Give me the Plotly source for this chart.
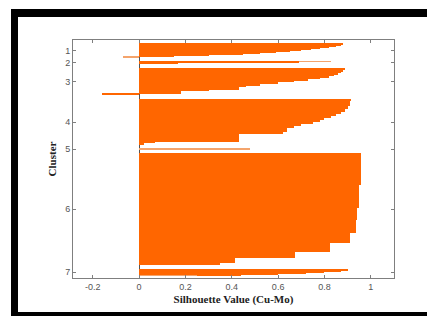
import plotly.graph_objects as go

# ---- data (silhouette values, sorted within each cluster, with run lengths) ----
cluster_labels = ["1", "2", "3", "4", "5", "6", "7"]

c1_values = [0.88, 0.87, 0.85, 0.82, 0.78, 0.74, 0.70, 0.65, 0.59, 0.52, 0.45, 0.30, 0.15, -0.07]
c1_counts = [3, 2, 2, 2, 2, 2, 2, 2, 2, 2, 2, 2, 2, 1]

c2_values = [0.83, 0.69, 0.17]
c2_counts = [1, 2, 2]

c3_values = [0.89, 0.88, 0.87, 0.86, 0.84, 0.82, 0.78, 0.73, 0.67, 0.60, 0.52, 0.46, 0.43, 0.30, 0.18, -0.16]
c3_counts = [4, 4, 3, 3, 3, 3, 3, 3, 3, 4, 3, 3, 5, 3, 5, 3]

c4_values = [0.915, 0.91, 0.90, 0.89, 0.87, 0.85, 0.83, 0.80, 0.78, 0.75, 0.70, 0.67, 0.64, 0.62, 0.43, 0.07, 0.02]
c4_counts = [4, 10, 6, 6, 4, 4, 4, 4, 4, 4, 4, 4, 8, 4, 15, 3, 3]

c5_values = [0.48]
c5_counts = [1]

c6_values = [0.957, 0.948, 0.942, 0.935, 0.91, 0.825, 0.674, 0.415, 0.35]
c6_counts = [63, 46, 24, 26, 20, 18, 12, 10, 5]

c7_values = [0.90, 0.87, 0.80, 0.72, 0.60, 0.44, 0.25]
c7_counts = [2, 2, 2, 2, 2, 2, 1]

x_ticks = [-0.2, 0, 0.2, 0.4, 0.6, 0.8, 1]
x_tick_labels = ["-0.2", "0", "0.2", "0.4", "0.6", "0.8", "1"]

all_values = [c1_values, c2_values, c3_values, c4_values, c5_values, c6_values, c7_values]
all_counts = [c1_counts, c2_counts, c3_counts, c4_counts, c5_counts, c6_counts, c7_counts]

# ---- layout of bars (MATLAB silhouette style: clusters separated by a gap) ----
TOP_PAD = 7
GAP = 8
BOTTOM_PAD = 5

ORANGE = "#FF6600"
ORANGE_THIN = "#F4A46C"   # single-observation bars look lighter (sub-pixel)
AXIS_GRAY = "#7f7f7f"

bar_x, bar_y, bar_w, bar_c = [], [], [], []
centers = []
pos = TOP_PAD
for vals, cnts in zip(all_values, all_counts):
    start = pos
    for v, c in zip(vals, cnts):
        bar_x.append(v)
        bar_y.append(pos + c / 2)
        bar_w.append(c)
        bar_c.append(ORANGE_THIN if c == 1 else ORANGE)
        pos += c
    centers.append((start + pos) / 2)
    pos += GAP
total = pos - GAP + BOTTOM_PAD

fig = go.Figure()
fig.add_trace(go.Bar(
    x=bar_x, y=bar_y, width=bar_w, orientation="h",
    marker=dict(color=bar_c, line=dict(width=0)),
    hoverinfo="x",
))

W, H = 427, 316
L, R, T, B = 73, 394, 40, 278

def px_x(p):
    return (p - L) / (R - L)

def px_y(p):
    return (B - p) / (B - T)

frame_shapes = [
    # left black bar
    dict(x0=px_x(11), x1=px_x(18), y0=px_y(316), y1=px_y(9)),
    # top black bar
    dict(x0=px_x(11), x1=px_x(427), y0=px_y(17), y1=px_y(9)),
    # bottom black bar
    dict(x0=px_x(11), x1=px_x(427), y0=px_y(316), y1=px_y(312)),
]
shapes = []
for s in frame_shapes:
    s.update(type="rect", xref="paper", yref="paper", fillcolor="black",
             line=dict(width=0), layer="above")
    shapes.append(s)

fig.update_layout(
    width=W, height=H,
    margin=dict(l=L, r=W - R, t=T, b=H - B, pad=0, autoexpand=False),
    paper_bgcolor="white", plot_bgcolor="white",
    showlegend=False,
    shapes=shapes,
    font=dict(family="Liberation Sans, Arial, sans-serif", size=9, color="#555555"),
    xaxis=dict(
        range=[-0.285, 1.10],
        tickvals=x_ticks, ticktext=x_tick_labels,
        ticks="inside", ticklen=3, tickcolor=AXIS_GRAY, tickwidth=1,
        showline=True, linecolor=AXIS_GRAY, linewidth=1, mirror="ticks",
        showgrid=False,
        zeroline=True, zerolinecolor="#555555", zerolinewidth=1,
        automargin=False,
        title=dict(text="<b>Silhouette Value (Cu-Mo)</b>", standoff=4,
                   font=dict(family="Liberation Serif, Times New Roman, serif", size=11, color="#222222")),
        tickfont=dict(size=9, color="#555555"),
    ),
    yaxis=dict(
        range=[total, 0],
        tickvals=centers, ticktext=cluster_labels,
        ticks="inside", ticklen=3, tickcolor=AXIS_GRAY, tickwidth=1,
        showline=True, linecolor=AXIS_GRAY, linewidth=1, mirror="ticks",
        showgrid=False, zeroline=False,
        automargin=False,
        title=dict(text="<b>Cluster</b>", standoff=6,
                   font=dict(family="Liberation Serif, Times New Roman, serif", size=11, color="#222222")),
        tickfont=dict(size=9, color="#555555"),
    ),
    bargap=0,
)

fig.write_html("out.html", config={"displayModeBar": False},
               post_script="document.body.style.margin='0';")
